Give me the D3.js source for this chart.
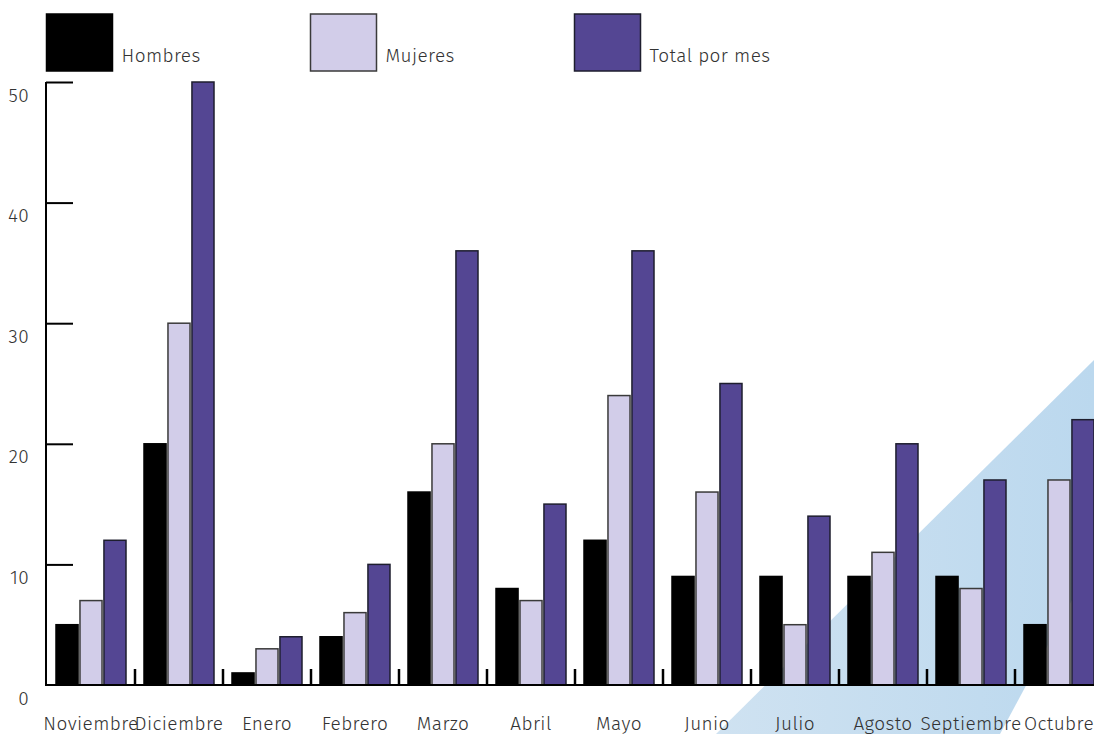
<!DOCTYPE html>
<html>
<head>
<meta charset="utf-8">
<script src="https://cdn.jsdelivr.net/npm/d3@7"></script>
<style>
  body { margin: 0; background: #fff; overflow: hidden; }
  text { font-family: "Fira Sans", "Open Sans", "Noto Sans", sans-serif; font-weight: 300; fill: #333; letter-spacing: 0.4px; }
</style>
</head>
<body>
<div id="chart"></div>
<script>
// data
var months = ["Noviembre", "Diciembre", "Enero", "Febrero", "Marzo", "Abril",
              "Mayo", "Junio", "Julio", "Agosto", "Septiembre", "Octubre"];
var hombres = [5, 20, 1, 4, 16, 8, 12, 9, 9, 9, 9, 5];
var mujeres = [7, 30, 3, 6, 20, 7, 24, 16, 5, 11, 8, 17];
var totalMes = [12, 50, 4, 10, 36, 15, 36, 25, 14, 20, 17, 22];
var seriesNames = ["Hombres", "Mujeres", "Total por mes"];
var yTicks = [0, 10, 20, 30, 40, 50];

var svgWidth = 1094;
var svgHeight = 734;

var colors = {
    "Hombres": "#000000",
    "Mujeres": "#d2cde9",
    "Total por mes": "#544693"
};
var strokes = {
    "Hombres": "#000000",
    "Mujeres": "#3a3a3a",
    "Total por mes": "#1e1e2e"
};

var svg = d3.select("#chart")
    .append("svg")
    .attr("width", svgWidth)
    .attr("height", svgHeight);

// background band (light blue diagonal)
var defs = svg.append("defs");
var grad = defs.append("linearGradient")
    .attr("id", "bandGrad")
    .attr("x1", "0%").attr("x2", "100%")
    .attr("y1", "0%").attr("y2", "0%");
grad.append("stop").attr("offset", "0%").attr("stop-color", "#cfe2f1");
grad.append("stop").attr("offset", "100%").attr("stop-color", "#bbd8ee");

svg.append("polygon")
    .attr("points", "716,734 1094,360 1094,559 1000,734")
    .attr("fill", "url(#bandGrad)");

//scales
var x0 = d3.scaleBand()
    .domain(months)
    .range([47, 47 + 88 * months.length])
    .padding(0);

var x1 = d3.scaleBand()
    .domain(seriesNames)
    .range([9, 79])
    .paddingInner(0.08);

var y = d3.scaleLinear()
    .domain([0, 50])
    .range([685, 82]);

var rows = months.map(function(m, i) {
    return {
        month: m,
        values: [
            { key: "Hombres", value: hombres[i] },
            { key: "Mujeres", value: mujeres[i] },
            { key: "Total por mes", value: totalMes[i] }
        ]
    };
});

//bars
var groups = svg.selectAll(".month")
    .data(rows)
    .enter()
    .append("g")
    .attr("class", "month")
    .attr("transform", d => `translate(${x0(d.month)},0)`);

groups.selectAll("rect")
    .data(d => d.values)
    .enter()
    .append("rect")
    .attr("x", d => x1(d.key))
    .attr("y", d => y(d.value))
    .attr("width", x1.bandwidth())
    .attr("height", d => y(0) - y(d.value))
    .attr("fill", d => colors[d.key])
    .attr("stroke", d => strokes[d.key])
    .attr("stroke-width", 1.5);

//y axis
var leftAxis = d3.axisLeft(y)
    .tickValues(yTicks)
    .tickSize(0)
    .tickPadding(0);

var yAxis = svg.append("g")
    .attr("transform", "translate(46,0)")
    .call(leftAxis);
yAxis.select(".domain").remove();
yAxis.selectAll("text")
    .attr("x", -17)
    .attr("dy", "1em")
    .style("font-size", "19px")
    .attr("fill", "#333");
yAxis.selectAll(".tick")
    .append("line")
    .attr("x1", 0).attr("x2", 27)
    .attr("stroke", "#000")
    .attr("stroke-width", 2)
    .filter(d => d === 0).remove();

svg.append("line")
    .attr("x1", 46).attr("x2", 46)
    .attr("y1", y(50)).attr("y2", y(0))
    .attr("stroke", "#000")
    .attr("stroke-width", 2);

//x axis
var bottomAxis = d3.axisBottom(x0)
    .tickSize(0)
    .tickPadding(0);

var xAxis = svg.append("g")
    .attr("transform", `translate(0, ${y(0)})`)
    .call(bottomAxis);
xAxis.select(".domain").remove();
xAxis.selectAll("text")
    .attr("dy", "2.35em")
    .style("font-size", "19px")
    .attr("fill", "#333");

svg.append("line")
    .attr("x1", 45).attr("x2", svgWidth)
    .attr("y1", y(0)).attr("y2", y(0))
    .attr("stroke", "#000")
    .attr("stroke-width", 2);

// separators between months
svg.selectAll(".sep")
    .data(months.slice(1))
    .enter()
    .append("line")
    .attr("class", "sep")
    .attr("x1", d => x0(d)).attr("x2", d => x0(d))
    .attr("y1", y(0) - 16).attr("y2", y(0))
    .attr("stroke", "#000")
    .attr("stroke-width", 2.5);

//legend
var legend = svg.selectAll(".legend")
    .data(seriesNames)
    .enter()
    .append("g")
    .attr("class", "legend")
    .attr("transform", (d, i) => `translate(${x0(months[i * 3]) - 0.5},14)`);

legend.append("rect")
    .attr("width", 66)
    .attr("height", 57)
    .attr("fill", d => colors[d])
    .attr("stroke", d => strokes[d])
    .attr("stroke-width", 1.5);

legend.append("text")
    .attr("x", 75)
    .attr("y", 48)
    .style("font-size", "19px")
    .text(d => d);
</script>
</body>
</html>
